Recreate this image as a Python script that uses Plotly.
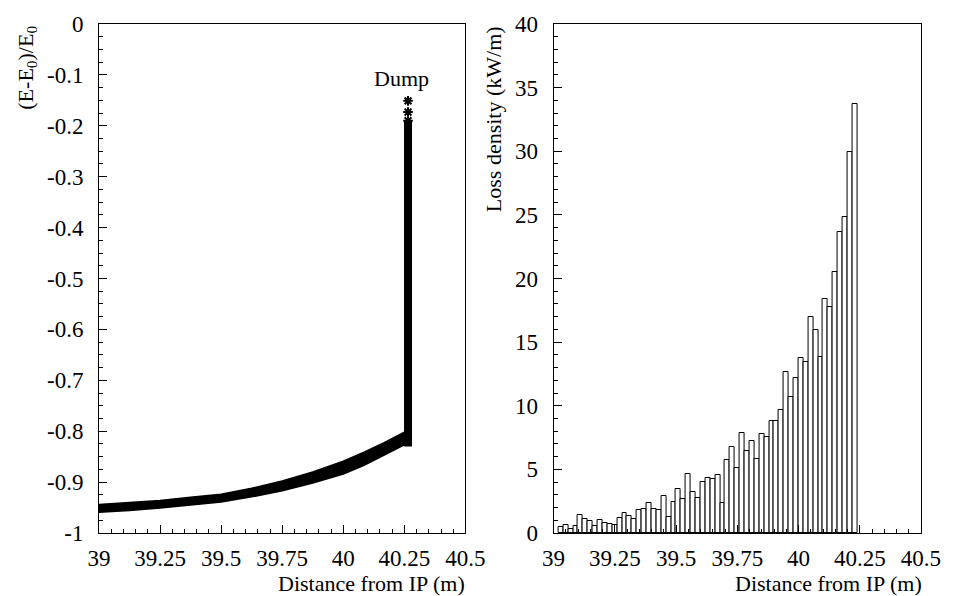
import plotly.graph_objects as go

# ---- Energy of the spent beam vs. distance (left panel) ----
band_x = [39.0, 39.125, 39.25, 39.375, 39.5, 39.625, 39.75, 39.875, 40.0, 40.085, 40.165, 40.25]
band_upper = [-0.944, -0.940, -0.936, -0.930, -0.924, -0.912, -0.898, -0.880, -0.859, -0.841, -0.823, -0.802]
band_lower = [-0.959, -0.956, -0.951, -0.945, -0.939, -0.929, -0.917, -0.902, -0.884, -0.867, -0.848, -0.827]

dump_x = 40.265
dump_low = -0.83
dump_high = -0.19
dump_stars = [-0.151, -0.173, -0.190]

# ---- Loss density histogram (right panel) ----
bin_start = 39.02
bin_width = 0.02
loss_density = [
    0.50, 0.60, 0.32, 0.52, 1.39, 1.09, 0.98, 0.52, 1.01, 0.79,
    0.69, 0.60, 1.20, 1.56, 1.37, 1.13, 1.77, 1.90, 2.36, 1.85,
    1.77, 2.87, 1.26, 2.44, 3.44, 2.67, 4.67, 3.20, 2.77, 3.98,
    4.34, 4.26, 4.52, 2.39, 5.75, 6.78, 5.11, 7.86, 6.47, 7.21,
    5.78, 7.78, 7.55, 8.78, 8.78, 9.68, 12.63, 10.68, 12.17, 13.76,
    13.40, 17.00, 15.92, 13.87, 18.36, 17.80, 20.52, 23.67, 24.85, 29.97,
    33.70,
]
bin_centers = [bin_start + bin_width * (i + 0.5) for i in range(len(loss_density))]

# ---- Tick labels ----
x_ticks = [39, 39.25, 39.5, 39.75, 40, 40.25, 40.5]
x_ticktext = ["39", "39.25", "39.5", "39.75", "40", "40.25", "40.5"]
e_ticks = [0, -0.1, -0.2, -0.3, -0.4, -0.5, -0.6, -0.7, -0.8, -0.9, -1]
e_ticktext = ["0", "-0.1", "-0.2", "-0.3", "-0.4", "-0.5", "-0.6", "-0.7", "-0.8", "-0.9", "-1"]
loss_ticks = [0, 5, 10, 15, 20, 25, 30, 35, 40]
loss_ticktext = [str(v) for v in loss_ticks]

FONT = "Liberation Serif"
FS = 22
TFS = 23

fig = go.Figure()

# energy band: lower edge then upper edge filled to it
fig.add_trace(go.Scatter(x=band_x, y=band_lower, mode="lines",
                         line=dict(color="black", width=1.5), showlegend=False,
                         xaxis="x", yaxis="y", hoverinfo="skip"))
fig.add_trace(go.Scatter(x=band_x, y=band_upper, mode="lines", fill="tonexty",
                         fillcolor="black", line=dict(color="black", width=1.5),
                         showlegend=False, xaxis="x", yaxis="y", hoverinfo="skip"))
# particles reaching the dump
fig.add_trace(go.Scatter(x=[dump_x, dump_x], y=[dump_low, dump_high], mode="lines",
                         line=dict(color="black", width=8), showlegend=False,
                         xaxis="x", yaxis="y", hoverinfo="skip"))
fig.add_trace(go.Scatter(x=[dump_x] * len(dump_stars), y=dump_stars, mode="markers",
                         marker=dict(symbol="asterisk", size=8, color="black",
                                     line=dict(color="black", width=2)),
                         showlegend=False, xaxis="x", yaxis="y", hoverinfo="skip"))

# loss density histogram
fig.add_trace(go.Bar(x=bin_centers, y=loss_density, width=bin_width,
                     marker=dict(color="white", line=dict(color="black", width=1)),
                     showlegend=False, xaxis="x2", yaxis="y2"))

W, H = 953, 596
ML, MR, MT, MB = 99, 24, 14, 63
PW = W - ML - MR
PH = H - MT - MB


def px_x(p):
    return (p - ML) / PW


def px_y(p):
    return (H - MB - p) / PH


common = dict(
    ticks="inside", tickcolor="black", tickwidth=1, ticklen=8,
    showline=True, linecolor="black", linewidth=1, mirror=True,
    showgrid=False, zeroline=False,
    tickfont=dict(family=FONT, size=TFS, color="black"),
)

xaxis_common = dict(common, range=[39, 40.5], tickmode="array", tickvals=x_ticks,
                    ticktext=x_ticktext, ticklabelstandoff=4,
                    minor=dict(tick0=39, dtick=0.05, ticks="inside", ticklen=4,
                               tickcolor="black", tickwidth=1, showgrid=False))

fig.update_layout(
    width=W, height=H,
    margin=dict(l=ML, r=MR, t=MT, b=MB, pad=0),
    paper_bgcolor="white", plot_bgcolor="white",
    bargap=0,
    xaxis=dict(xaxis_common, domain=[0, px_x(469)], anchor="y"),
    yaxis=dict(common, range=[-1, 0], tickmode="array", tickvals=e_ticks,
               ticktext=e_ticktext, ticklabelstandoff=10, anchor="x",
               minor=dict(tick0=0, dtick=0.025, ticks="inside", ticklen=4,
                          tickcolor="black", tickwidth=1, showgrid=False)),
    xaxis2=dict(xaxis_common, domain=[px_x(558), 1], anchor="y2"),
    yaxis2=dict(common, range=[0, 40], tickmode="array", tickvals=loss_ticks,
                ticktext=loss_ticktext, ticklabelstandoff=10, anchor="x2",
                minor=dict(tick0=0, dtick=1, ticks="inside", ticklen=4,
                           tickcolor="black", tickwidth=1, showgrid=False)),
    annotations=[
        dict(text="Dump", x=40.24, y=-0.108, xref="x", yref="y", showarrow=False,
             xanchor="center", yanchor="middle",
             font=dict(family=FONT, size=FS, color="black")),
        dict(text="(E-E<sub>0</sub>)/E<sub>0</sub>", textangle=-90,
             x=px_x(26), y=1, xref="paper", yref="paper", showarrow=False,
             xanchor="center", yanchor="top",
             font=dict(family=FONT, size=FS, color="black")),
        dict(text="Loss density (kW/m)", textangle=-90,
             x=px_x(497), y=1, xref="paper", yref="paper", showarrow=False,
             xanchor="center", yanchor="top",
             font=dict(family=FONT, size=FS, color="black")),
        dict(text="Distance from IP (m)", x=px_x(471), y=px_y(585),
             xref="paper", yref="paper", showarrow=False,
             xanchor="right", yanchor="middle",
             font=dict(family=FONT, size=FS, color="black")),
        dict(text="Distance from IP (m)", x=px_x(932), y=px_y(585),
             xref="paper", yref="paper", showarrow=False,
             xanchor="right", yanchor="middle",
             font=dict(family=FONT, size=FS, color="black")),
    ],
)

fig.write_html("out.html")
